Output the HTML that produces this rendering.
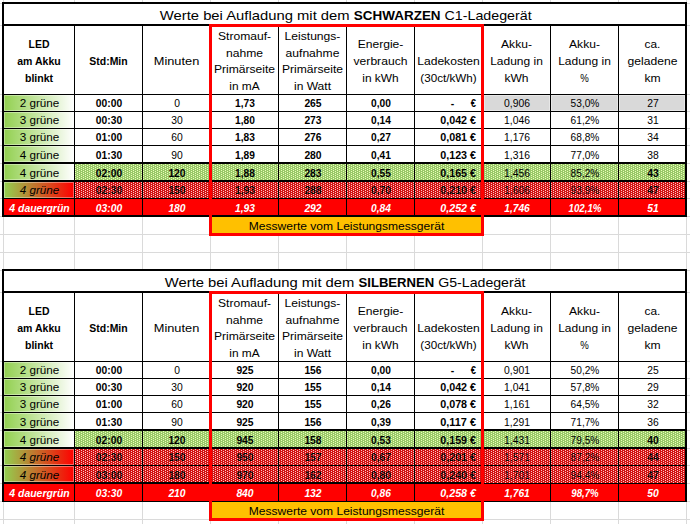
<!DOCTYPE html>
<html><head><meta charset="utf-8"><style>
html,body{margin:0;padding:0;background:#fff;overflow:hidden;}
svg{display:block;}
text{font-family:"Liberation Sans",sans-serif;}
</style></head><body>
<svg width="690" height="524" viewBox="0 0 690 524" shape-rendering="crispEdges">
<defs>
<linearGradient id="gw" x1="0" x2="1" y1="0" y2="0"><stop offset="0" stop-color="#92D050"/><stop offset="1" stop-color="#FFFFFF"/></linearGradient>
<linearGradient id="gr" x1="0" x2="1" y1="0" y2="0"><stop offset="0" stop-color="#92D050"/><stop offset="1" stop-color="#FF0000"/></linearGradient>
<pattern id="pg" patternUnits="userSpaceOnUse" x="0" y="0" width="4" height="2"><rect width="4" height="2" fill="rgb(153,200,104)"/><rect x="1" y="0" width="1" height="1" fill="rgb(233,255,184)"/><rect x="3" y="1" width="1" height="1" fill="rgb(233,255,184)"/></pattern>
<pattern id="pr" patternUnits="userSpaceOnUse" x="0" y="0" width="4" height="2"><rect width="4" height="2" fill="rgb(210,19,19)"/><rect x="1" y="0" width="1" height="1" fill="rgb(255,198,198)"/><rect x="3" y="1" width="1" height="1" fill="rgb(255,198,198)"/></pattern>
<pattern id="pd" patternUnits="userSpaceOnUse" x="0" y="0" width="4" height="2"><rect x="1" y="0" width="1" height="1" fill="rgb(255,198,198)"/><rect x="3" y="1" width="1" height="1" fill="rgb(255,198,198)"/></pattern>
</defs>
<rect width="690" height="524" fill="#FFFFFF"/>
<rect x="3" y="0" width="1" height="524" fill="#DADADA"/>
<rect x="74" y="0" width="1" height="524" fill="#DADADA"/>
<rect x="142" y="0" width="1" height="524" fill="#DADADA"/>
<rect x="210" y="0" width="1" height="524" fill="#DADADA"/>
<rect x="278" y="0" width="1" height="524" fill="#DADADA"/>
<rect x="346" y="0" width="1" height="524" fill="#DADADA"/>
<rect x="414" y="0" width="1" height="524" fill="#DADADA"/>
<rect x="482" y="0" width="1" height="524" fill="#DADADA"/>
<rect x="550" y="0" width="1" height="524" fill="#DADADA"/>
<rect x="618" y="0" width="1" height="524" fill="#DADADA"/>
<rect x="686" y="0" width="1" height="524" fill="#DADADA"/>
<rect x="0" y="3" width="690" height="1" fill="#DADADA"/>
<rect x="0" y="25" width="690" height="1" fill="#DADADA"/>
<rect x="0" y="94" width="690" height="1" fill="#DADADA"/>
<rect x="0" y="111" width="690" height="1" fill="#DADADA"/>
<rect x="0" y="128" width="690" height="1" fill="#DADADA"/>
<rect x="0" y="145" width="690" height="1" fill="#DADADA"/>
<rect x="0" y="163" width="690" height="1" fill="#DADADA"/>
<rect x="0" y="181" width="690" height="1" fill="#DADADA"/>
<rect x="0" y="198" width="690" height="1" fill="#DADADA"/>
<rect x="0" y="216" width="690" height="1" fill="#DADADA"/>
<rect x="0" y="234" width="690" height="1" fill="#DADADA"/>
<rect x="0" y="252" width="690" height="1" fill="#DADADA"/>
<rect x="0" y="270" width="690" height="1" fill="#DADADA"/>
<rect x="0" y="292" width="690" height="1" fill="#DADADA"/>
<rect x="0" y="361" width="690" height="1" fill="#DADADA"/>
<rect x="0" y="378" width="690" height="1" fill="#DADADA"/>
<rect x="0" y="395" width="690" height="1" fill="#DADADA"/>
<rect x="0" y="412" width="690" height="1" fill="#DADADA"/>
<rect x="0" y="430" width="690" height="1" fill="#DADADA"/>
<rect x="0" y="448" width="690" height="1" fill="#DADADA"/>
<rect x="0" y="465" width="690" height="1" fill="#DADADA"/>
<rect x="0" y="483" width="690" height="1" fill="#DADADA"/>
<rect x="0" y="501" width="690" height="1" fill="#DADADA"/>
<rect x="0" y="519" width="690" height="1" fill="#DADADA"/>
<rect x="2" y="2" width="685" height="215" fill="#FFFFFF"/>
<rect x="4" y="95" width="70" height="16" fill="url(#gw)"/>
<path d="M4 95h70v1h-70zM4 110h70v1h-70zM4 96h1v14h-1zM73 96h1v14h-1z" fill="#FFF" fill-opacity="0.38"/>
<rect x="484" y="95" width="201" height="16" fill="#D9D9D9"/>
<path d="M484 95h66v1h-66zM484 110h66v1h-66zM484 96h1v14h-1zM549 96h1v14h-1z" fill="#FFF" fill-opacity="0.38"/>
<path d="M551 95h67v1h-67zM551 110h67v1h-67zM551 96h1v14h-1zM617 96h1v14h-1z" fill="#FFF" fill-opacity="0.38"/>
<path d="M619 95h66v1h-66zM619 110h66v1h-66zM619 96h1v14h-1zM684 96h1v14h-1z" fill="#FFF" fill-opacity="0.38"/>
<rect x="4" y="112" width="70" height="16" fill="url(#gw)"/>
<path d="M4 112h70v1h-70zM4 127h70v1h-70zM4 113h1v14h-1zM73 113h1v14h-1z" fill="#FFF" fill-opacity="0.38"/>
<rect x="4" y="129" width="70" height="16" fill="url(#gw)"/>
<path d="M4 129h70v1h-70zM4 144h70v1h-70zM4 130h1v14h-1zM73 130h1v14h-1z" fill="#FFF" fill-opacity="0.38"/>
<rect x="4" y="146" width="70" height="16" fill="url(#gw)"/>
<path d="M4 146h70v1h-70zM4 161h70v1h-70zM4 147h1v14h-1zM73 147h1v14h-1z" fill="#FFF" fill-opacity="0.38"/>
<rect x="4" y="164" width="70" height="16" fill="url(#gw)"/>
<path d="M4 164h70v1h-70zM4 179h70v1h-70zM4 165h1v14h-1zM73 165h1v14h-1z" fill="#FFF" fill-opacity="0.38"/>
<rect x="75" y="164" width="610" height="16" fill="url(#pg)"/>
<rect x="4" y="182" width="70" height="16" fill="url(#gr)"/>
<path d="M4 182h70v1h-70zM4 197h70v1h-70zM4 183h1v14h-1zM73 183h1v14h-1z" fill="#FFF" fill-opacity="0.38"/>
<rect x="75" y="182" width="610" height="16" fill="url(#pr)"/>
<rect x="4" y="199" width="70" height="16" fill="#FF0000"/>
<rect x="75" y="199" width="610" height="16" fill="#FF0000"/>
<text x="159.80" y="19.80" font-size="13.4" textLength="194.00" lengthAdjust="spacingAndGlyphs" xml:space="preserve">Werte bei Aufladung mit dem </text>
<text x="353.80" y="19.80" font-size="13.4" textLength="86.80" lengthAdjust="spacingAndGlyphs" font-weight="bold" xml:space="preserve">SCHWARZEN</text>
<text x="440.60" y="19.80" font-size="13.4" textLength="91.00" lengthAdjust="spacingAndGlyphs" xml:space="preserve"> C1-Ladegerät</text>
<text x="39.00" y="48.17" text-anchor="middle" font-size="11.0" font-weight="bold" textLength="20.88" lengthAdjust="spacingAndGlyphs">LED</text>
<text x="39.00" y="64.92" text-anchor="middle" font-size="11.0" font-weight="bold" textLength="43.41" lengthAdjust="spacingAndGlyphs">am Akku</text>
<text x="39.00" y="81.67" text-anchor="middle" font-size="11.0" font-weight="bold" textLength="28.12" lengthAdjust="spacingAndGlyphs">blinkt</text>
<text x="108.50" y="64.92" text-anchor="middle" font-size="11.0" font-weight="bold" textLength="38.29" lengthAdjust="spacingAndGlyphs">Std:Min</text>
<text x="176.50" y="64.92" text-anchor="middle" font-size="11.0" textLength="45.50" lengthAdjust="spacingAndGlyphs">Minuten</text>
<text x="244.50" y="39.80" text-anchor="middle" font-size="11.0" textLength="53.09" lengthAdjust="spacingAndGlyphs">Stromauf-</text>
<text x="244.50" y="56.55" text-anchor="middle" font-size="11.0" textLength="37.06" lengthAdjust="spacingAndGlyphs">nahme</text>
<text x="244.50" y="73.30" text-anchor="middle" font-size="11.0" textLength="61.21" lengthAdjust="spacingAndGlyphs">Primärseite</text>
<text x="244.50" y="90.05" text-anchor="middle" font-size="11.0" textLength="30.37" lengthAdjust="spacingAndGlyphs">in mA</text>
<text x="312.50" y="39.80" text-anchor="middle" font-size="11.0" textLength="55.81" lengthAdjust="spacingAndGlyphs">Leistungs-</text>
<text x="312.50" y="56.55" text-anchor="middle" font-size="11.0" textLength="53.91" lengthAdjust="spacingAndGlyphs">aufnahme</text>
<text x="312.50" y="73.30" text-anchor="middle" font-size="11.0" textLength="61.21" lengthAdjust="spacingAndGlyphs">Primärseite</text>
<text x="312.50" y="90.05" text-anchor="middle" font-size="11.0" textLength="37.07" lengthAdjust="spacingAndGlyphs">in Watt</text>
<text x="380.50" y="48.17" text-anchor="middle" font-size="11.0" textLength="45.69" lengthAdjust="spacingAndGlyphs">Energie-</text>
<text x="380.50" y="64.92" text-anchor="middle" font-size="11.0" textLength="53.90" lengthAdjust="spacingAndGlyphs">verbrauch</text>
<text x="380.50" y="81.67" text-anchor="middle" font-size="11.0" textLength="36.39" lengthAdjust="spacingAndGlyphs">in kWh</text>
<text x="448.50" y="48.17" text-anchor="middle" font-size="11.0" textLength="0.00" lengthAdjust="spacingAndGlyphs"></text>
<text x="448.50" y="64.92" text-anchor="middle" font-size="11.0" textLength="62.60" lengthAdjust="spacingAndGlyphs">Ladekosten</text>
<text x="448.50" y="81.67" text-anchor="middle" font-size="11.0" textLength="56.36" lengthAdjust="spacingAndGlyphs">(30ct/kWh)</text>
<text x="516.50" y="48.17" text-anchor="middle" font-size="11.0" textLength="30.86" lengthAdjust="spacingAndGlyphs">Akku-</text>
<text x="516.50" y="64.92" text-anchor="middle" font-size="11.0" textLength="52.64" lengthAdjust="spacingAndGlyphs">Ladung in</text>
<text x="516.50" y="81.67" text-anchor="middle" font-size="11.0" textLength="24.13" lengthAdjust="spacingAndGlyphs">kWh</text>
<text x="584.50" y="48.17" text-anchor="middle" font-size="11.0" textLength="30.86" lengthAdjust="spacingAndGlyphs">Akku-</text>
<text x="584.50" y="64.92" text-anchor="middle" font-size="11.0" textLength="52.64" lengthAdjust="spacingAndGlyphs">Ladung in</text>
<text x="584.50" y="81.67" text-anchor="middle" font-size="11.0" textLength="8.54" lengthAdjust="spacingAndGlyphs">%</text>
<text x="652.50" y="48.17" text-anchor="middle" font-size="11.0" textLength="15.80" lengthAdjust="spacingAndGlyphs">ca.</text>
<text x="652.50" y="64.92" text-anchor="middle" font-size="11.0" textLength="49.88" lengthAdjust="spacingAndGlyphs">geladene</text>
<text x="652.50" y="81.67" text-anchor="middle" font-size="11.0" textLength="16.16" lengthAdjust="spacingAndGlyphs">km</text>
<text x="39.50" y="107.00" text-anchor="middle" font-size="11.0" textLength="39.57" lengthAdjust="spacingAndGlyphs">2 grüne</text>
<text x="109.00" y="107.00" text-anchor="middle" font-size="11.0" font-weight="bold" textLength="26.26" lengthAdjust="spacingAndGlyphs">00:00</text>
<text x="177.00" y="107.00" text-anchor="middle" font-size="11.0" textLength="5.74" lengthAdjust="spacingAndGlyphs">0</text>
<text x="245.00" y="107.00" text-anchor="middle" font-size="11.0" font-weight="bold" textLength="19.83" lengthAdjust="spacingAndGlyphs">1,73</text>
<text x="313.00" y="107.00" text-anchor="middle" font-size="11.0" font-weight="bold" textLength="17.22" lengthAdjust="spacingAndGlyphs">265</text>
<text x="381.00" y="107.00" text-anchor="middle" font-size="11.0" font-weight="bold" textLength="19.83" lengthAdjust="spacingAndGlyphs">0,00</text>
<text x="452.50" y="107.00" text-anchor="middle" font-size="11.0" font-weight="bold" textLength="3.48" lengthAdjust="spacingAndGlyphs">-</text>
<text x="476.00" y="107.00" text-anchor="end" font-size="11.0" font-weight="bold" textLength="5.23" lengthAdjust="spacingAndGlyphs">€</text>
<text x="517.00" y="107.00" text-anchor="middle" font-size="11.0" textLength="25.96" lengthAdjust="spacingAndGlyphs">0,906</text>
<text x="585.00" y="107.00" text-anchor="middle" font-size="11.0" textLength="28.76" lengthAdjust="spacingAndGlyphs">53,0%</text>
<text x="653.00" y="107.00" text-anchor="middle" font-size="11.0" textLength="11.48" lengthAdjust="spacingAndGlyphs">27</text>
<text x="39.50" y="124.00" text-anchor="middle" font-size="11.0" textLength="39.57" lengthAdjust="spacingAndGlyphs">3 grüne</text>
<text x="109.00" y="124.00" text-anchor="middle" font-size="11.0" font-weight="bold" textLength="26.26" lengthAdjust="spacingAndGlyphs">00:30</text>
<text x="177.00" y="124.00" text-anchor="middle" font-size="11.0" textLength="11.48" lengthAdjust="spacingAndGlyphs">30</text>
<text x="245.00" y="124.00" text-anchor="middle" font-size="11.0" font-weight="bold" textLength="19.83" lengthAdjust="spacingAndGlyphs">1,80</text>
<text x="313.00" y="124.00" text-anchor="middle" font-size="11.0" font-weight="bold" textLength="17.22" lengthAdjust="spacingAndGlyphs">273</text>
<text x="381.00" y="124.00" text-anchor="middle" font-size="11.0" font-weight="bold" textLength="19.83" lengthAdjust="spacingAndGlyphs">0,14</text>
<text x="476.00" y="124.00" text-anchor="end" font-size="11.0" font-weight="bold" textLength="35.76" lengthAdjust="spacingAndGlyphs">0,042 €</text>
<text x="517.00" y="124.00" text-anchor="middle" font-size="11.0" textLength="25.96" lengthAdjust="spacingAndGlyphs">1,046</text>
<text x="585.00" y="124.00" text-anchor="middle" font-size="11.0" textLength="28.76" lengthAdjust="spacingAndGlyphs">61,2%</text>
<text x="653.00" y="124.00" text-anchor="middle" font-size="11.0" textLength="11.48" lengthAdjust="spacingAndGlyphs">31</text>
<text x="39.50" y="141.00" text-anchor="middle" font-size="11.0" textLength="39.57" lengthAdjust="spacingAndGlyphs">3 grüne</text>
<text x="109.00" y="141.00" text-anchor="middle" font-size="11.0" font-weight="bold" textLength="26.26" lengthAdjust="spacingAndGlyphs">01:00</text>
<text x="177.00" y="141.00" text-anchor="middle" font-size="11.0" textLength="11.48" lengthAdjust="spacingAndGlyphs">60</text>
<text x="245.00" y="141.00" text-anchor="middle" font-size="11.0" font-weight="bold" textLength="19.83" lengthAdjust="spacingAndGlyphs">1,83</text>
<text x="313.00" y="141.00" text-anchor="middle" font-size="11.0" font-weight="bold" textLength="17.22" lengthAdjust="spacingAndGlyphs">276</text>
<text x="381.00" y="141.00" text-anchor="middle" font-size="11.0" font-weight="bold" textLength="19.83" lengthAdjust="spacingAndGlyphs">0,27</text>
<text x="476.00" y="141.00" text-anchor="end" font-size="11.0" font-weight="bold" textLength="35.76" lengthAdjust="spacingAndGlyphs">0,081 €</text>
<text x="517.00" y="141.00" text-anchor="middle" font-size="11.0" textLength="25.96" lengthAdjust="spacingAndGlyphs">1,176</text>
<text x="585.00" y="141.00" text-anchor="middle" font-size="11.0" textLength="28.76" lengthAdjust="spacingAndGlyphs">68,8%</text>
<text x="653.00" y="141.00" text-anchor="middle" font-size="11.0" textLength="11.48" lengthAdjust="spacingAndGlyphs">34</text>
<text x="39.50" y="159.00" text-anchor="middle" font-size="11.0" textLength="39.57" lengthAdjust="spacingAndGlyphs">4 grüne</text>
<text x="109.00" y="159.00" text-anchor="middle" font-size="11.0" font-weight="bold" textLength="26.26" lengthAdjust="spacingAndGlyphs">01:30</text>
<text x="177.00" y="159.00" text-anchor="middle" font-size="11.0" textLength="11.48" lengthAdjust="spacingAndGlyphs">90</text>
<text x="245.00" y="159.00" text-anchor="middle" font-size="11.0" font-weight="bold" textLength="19.83" lengthAdjust="spacingAndGlyphs">1,89</text>
<text x="313.00" y="159.00" text-anchor="middle" font-size="11.0" font-weight="bold" textLength="17.22" lengthAdjust="spacingAndGlyphs">280</text>
<text x="381.00" y="159.00" text-anchor="middle" font-size="11.0" font-weight="bold" textLength="19.83" lengthAdjust="spacingAndGlyphs">0,41</text>
<text x="476.00" y="159.00" text-anchor="end" font-size="11.0" font-weight="bold" textLength="35.76" lengthAdjust="spacingAndGlyphs">0,123 €</text>
<text x="517.00" y="159.00" text-anchor="middle" font-size="11.0" textLength="25.96" lengthAdjust="spacingAndGlyphs">1,316</text>
<text x="585.00" y="159.00" text-anchor="middle" font-size="11.0" textLength="28.76" lengthAdjust="spacingAndGlyphs">77,0%</text>
<text x="653.00" y="159.00" text-anchor="middle" font-size="11.0" textLength="11.48" lengthAdjust="spacingAndGlyphs">38</text>
<text x="39.50" y="177.00" text-anchor="middle" font-size="11.0" textLength="39.57" lengthAdjust="spacingAndGlyphs">4 grüne</text>
<text x="109.00" y="177.00" text-anchor="middle" font-size="11.0" font-weight="bold" textLength="26.26" lengthAdjust="spacingAndGlyphs">02:00</text>
<text x="177.00" y="177.00" text-anchor="middle" font-size="11.0" font-weight="bold" textLength="17.22" lengthAdjust="spacingAndGlyphs">120</text>
<text x="245.00" y="177.00" text-anchor="middle" font-size="11.0" font-weight="bold" textLength="19.83" lengthAdjust="spacingAndGlyphs">1,88</text>
<text x="313.00" y="177.00" text-anchor="middle" font-size="11.0" font-weight="bold" textLength="17.22" lengthAdjust="spacingAndGlyphs">283</text>
<text x="381.00" y="177.00" text-anchor="middle" font-size="11.0" font-weight="bold" textLength="19.83" lengthAdjust="spacingAndGlyphs">0,55</text>
<text x="476.00" y="177.00" text-anchor="end" font-size="11.0" font-weight="bold" textLength="35.76" lengthAdjust="spacingAndGlyphs">0,165 €</text>
<text x="517.00" y="177.00" text-anchor="middle" font-size="11.0" textLength="25.96" lengthAdjust="spacingAndGlyphs">1,456</text>
<text x="585.00" y="177.00" text-anchor="middle" font-size="11.0" textLength="28.76" lengthAdjust="spacingAndGlyphs">85,2%</text>
<text x="653.00" y="177.00" text-anchor="middle" font-size="11.0" font-weight="bold" textLength="11.48" lengthAdjust="spacingAndGlyphs">43</text>
<text x="39.50" y="194.00" text-anchor="middle" font-size="11.0" font-style="italic" textLength="39.57" lengthAdjust="spacingAndGlyphs">4 grüne</text>
<text x="109.00" y="194.00" text-anchor="middle" font-size="11.0" font-weight="bold" textLength="26.26" lengthAdjust="spacingAndGlyphs">02:30</text>
<text x="177.00" y="194.00" text-anchor="middle" font-size="11.0" font-weight="bold" textLength="17.22" lengthAdjust="spacingAndGlyphs">150</text>
<text x="245.00" y="194.00" text-anchor="middle" font-size="11.0" font-weight="bold" textLength="19.83" lengthAdjust="spacingAndGlyphs">1,93</text>
<text x="313.00" y="194.00" text-anchor="middle" font-size="11.0" font-weight="bold" textLength="17.22" lengthAdjust="spacingAndGlyphs">288</text>
<text x="381.00" y="194.00" text-anchor="middle" font-size="11.0" font-weight="bold" textLength="19.83" lengthAdjust="spacingAndGlyphs">0,70</text>
<text x="476.00" y="194.00" text-anchor="end" font-size="11.0" font-weight="bold" textLength="35.76" lengthAdjust="spacingAndGlyphs">0,210 €</text>
<text x="517.00" y="194.00" text-anchor="middle" font-size="11.0" textLength="25.96" lengthAdjust="spacingAndGlyphs">1,606</text>
<text x="585.00" y="194.00" text-anchor="middle" font-size="11.0" textLength="28.76" lengthAdjust="spacingAndGlyphs">93,9%</text>
<text x="653.00" y="194.00" text-anchor="middle" font-size="11.0" font-weight="bold" textLength="11.48" lengthAdjust="spacingAndGlyphs">47</text>
<text x="39.50" y="212.00" text-anchor="middle" font-size="11.0" font-weight="bold" font-style="italic" fill="#FFF" textLength="60.35" lengthAdjust="spacingAndGlyphs">4 dauergrün</text>
<text x="109.00" y="212.00" text-anchor="middle" font-size="11.0" font-weight="bold" font-style="italic" fill="#FFF" textLength="26.26" lengthAdjust="spacingAndGlyphs">03:00</text>
<text x="177.00" y="212.00" text-anchor="middle" font-size="11.0" font-weight="bold" font-style="italic" fill="#FFF" textLength="17.22" lengthAdjust="spacingAndGlyphs">180</text>
<text x="245.00" y="212.00" text-anchor="middle" font-size="11.0" font-weight="bold" font-style="italic" fill="#FFF" textLength="19.83" lengthAdjust="spacingAndGlyphs">1,93</text>
<text x="313.00" y="212.00" text-anchor="middle" font-size="11.0" font-weight="bold" font-style="italic" fill="#FFF" textLength="17.22" lengthAdjust="spacingAndGlyphs">292</text>
<text x="381.00" y="212.00" text-anchor="middle" font-size="11.0" font-weight="bold" font-style="italic" fill="#FFF" textLength="19.83" lengthAdjust="spacingAndGlyphs">0,84</text>
<text x="476.00" y="212.00" text-anchor="end" font-size="11.0" font-weight="bold" font-style="italic" fill="#FFF" textLength="35.76" lengthAdjust="spacingAndGlyphs">0,252 €</text>
<text x="517.00" y="212.00" text-anchor="middle" font-size="11.0" font-weight="bold" font-style="italic" fill="#FFF" textLength="25.57" lengthAdjust="spacingAndGlyphs">1,746</text>
<text x="585.00" y="212.00" text-anchor="middle" font-size="11.0" font-weight="bold" font-style="italic" fill="#FFF" textLength="32.99" lengthAdjust="spacingAndGlyphs">102,1%</text>
<text x="653.00" y="212.00" text-anchor="middle" font-size="11.0" font-weight="bold" font-style="italic" fill="#FFF" textLength="11.48" lengthAdjust="spacingAndGlyphs">51</text>
<rect x="75" y="182" width="610" height="16" fill="url(#pd)" opacity="0.4"/>
<rect x="2" y="94" width="685" height="1" fill="#000"/>
<rect x="2" y="111" width="685" height="1" fill="#000"/>
<rect x="2" y="128" width="685" height="1" fill="#000"/>
<rect x="2" y="145" width="685" height="1" fill="#000"/>
<rect x="2" y="162" width="685" height="2" fill="#000"/>
<rect x="2" y="180" width="685" height="2" fill="#000"/>
<rect x="2" y="198" width="685" height="1" fill="#000"/>
<rect x="74" y="25" width="1" height="191" fill="#000"/>
<rect x="142" y="25" width="1" height="191" fill="#000"/>
<rect x="210" y="25" width="1" height="191" fill="#000"/>
<rect x="278" y="25" width="1" height="191" fill="#000"/>
<rect x="346" y="25" width="1" height="191" fill="#000"/>
<rect x="414" y="25" width="1" height="191" fill="#000"/>
<rect x="482" y="25" width="1" height="191" fill="#000"/>
<rect x="550" y="25" width="1" height="191" fill="#000"/>
<rect x="618" y="25" width="1" height="191" fill="#000"/>
<rect x="2" y="2" width="2" height="215" fill="#000"/>
<rect x="685" y="2" width="2" height="215" fill="#000"/>
<rect x="2" y="2" width="685" height="2" fill="#000"/>
<rect x="2" y="24" width="685" height="2" fill="#000"/>
<rect x="2" y="215" width="685" height="2" fill="#000"/>
<rect x="212" y="217" width="269" height="16" fill="#FFC000"/>
<text x="346.50" y="229.80" text-anchor="middle" font-size="11.0" textLength="195.46" lengthAdjust="spacingAndGlyphs">Messwerte vom Leistungsmessgerät</text>
<rect x="209" y="24" width="3" height="212" fill="#FF0000"/>
<rect x="481" y="24" width="3" height="212" fill="#FF0000"/>
<rect x="209" y="24" width="275" height="3" fill="#FF0000"/>
<rect x="209" y="233" width="275" height="3" fill="#FF0000"/>
<rect x="2" y="269" width="685" height="233" fill="#FFFFFF"/>
<rect x="4" y="362" width="70" height="16" fill="url(#gw)"/>
<path d="M4 362h70v1h-70zM4 377h70v1h-70zM4 363h1v14h-1zM73 363h1v14h-1z" fill="#FFF" fill-opacity="0.38"/>
<rect x="4" y="379" width="70" height="16" fill="url(#gw)"/>
<path d="M4 379h70v1h-70zM4 394h70v1h-70zM4 380h1v14h-1zM73 380h1v14h-1z" fill="#FFF" fill-opacity="0.38"/>
<rect x="4" y="396" width="70" height="16" fill="url(#gw)"/>
<path d="M4 396h70v1h-70zM4 411h70v1h-70zM4 397h1v14h-1zM73 397h1v14h-1z" fill="#FFF" fill-opacity="0.38"/>
<rect x="4" y="413" width="70" height="16" fill="url(#gw)"/>
<path d="M4 413h70v1h-70zM4 428h70v1h-70zM4 414h1v14h-1zM73 414h1v14h-1z" fill="#FFF" fill-opacity="0.38"/>
<rect x="4" y="431" width="70" height="16" fill="url(#gw)"/>
<path d="M4 431h70v1h-70zM4 446h70v1h-70zM4 432h1v14h-1zM73 432h1v14h-1z" fill="#FFF" fill-opacity="0.38"/>
<rect x="75" y="431" width="610" height="16" fill="url(#pg)"/>
<rect x="4" y="449" width="70" height="16" fill="url(#gr)"/>
<path d="M4 449h70v1h-70zM4 464h70v1h-70zM4 450h1v14h-1zM73 450h1v14h-1z" fill="#FFF" fill-opacity="0.38"/>
<rect x="75" y="449" width="610" height="16" fill="url(#pr)"/>
<rect x="4" y="466" width="70" height="16" fill="url(#gr)"/>
<path d="M4 466h70v1h-70zM4 481h70v1h-70zM4 467h1v14h-1zM73 467h1v14h-1z" fill="#FFF" fill-opacity="0.38"/>
<rect x="75" y="466" width="610" height="16" fill="url(#pr)"/>
<rect x="4" y="484" width="70" height="16" fill="#FF0000"/>
<rect x="75" y="484" width="610" height="16" fill="#FF0000"/>
<text x="164.80" y="286.80" font-size="13.4" textLength="193.70" lengthAdjust="spacingAndGlyphs" xml:space="preserve">Werte bei Aufladung mit dem </text>
<text x="358.50" y="286.80" font-size="13.4" textLength="75.80" lengthAdjust="spacingAndGlyphs" font-weight="bold" xml:space="preserve">SILBERNEN</text>
<text x="434.30" y="286.80" font-size="13.4" textLength="91.20" lengthAdjust="spacingAndGlyphs" xml:space="preserve"> G5-Ladegerät</text>
<text x="39.00" y="315.18" text-anchor="middle" font-size="11.0" font-weight="bold" textLength="20.88" lengthAdjust="spacingAndGlyphs">LED</text>
<text x="39.00" y="331.93" text-anchor="middle" font-size="11.0" font-weight="bold" textLength="43.41" lengthAdjust="spacingAndGlyphs">am Akku</text>
<text x="39.00" y="348.68" text-anchor="middle" font-size="11.0" font-weight="bold" textLength="28.12" lengthAdjust="spacingAndGlyphs">blinkt</text>
<text x="108.50" y="331.93" text-anchor="middle" font-size="11.0" font-weight="bold" textLength="38.29" lengthAdjust="spacingAndGlyphs">Std:Min</text>
<text x="176.50" y="331.93" text-anchor="middle" font-size="11.0" textLength="45.50" lengthAdjust="spacingAndGlyphs">Minuten</text>
<text x="244.50" y="306.80" text-anchor="middle" font-size="11.0" textLength="53.09" lengthAdjust="spacingAndGlyphs">Stromauf-</text>
<text x="244.50" y="323.55" text-anchor="middle" font-size="11.0" textLength="37.06" lengthAdjust="spacingAndGlyphs">nahme</text>
<text x="244.50" y="340.30" text-anchor="middle" font-size="11.0" textLength="61.21" lengthAdjust="spacingAndGlyphs">Primärseite</text>
<text x="244.50" y="357.05" text-anchor="middle" font-size="11.0" textLength="30.37" lengthAdjust="spacingAndGlyphs">in mA</text>
<text x="312.50" y="306.80" text-anchor="middle" font-size="11.0" textLength="55.81" lengthAdjust="spacingAndGlyphs">Leistungs-</text>
<text x="312.50" y="323.55" text-anchor="middle" font-size="11.0" textLength="53.91" lengthAdjust="spacingAndGlyphs">aufnahme</text>
<text x="312.50" y="340.30" text-anchor="middle" font-size="11.0" textLength="61.21" lengthAdjust="spacingAndGlyphs">Primärseite</text>
<text x="312.50" y="357.05" text-anchor="middle" font-size="11.0" textLength="37.07" lengthAdjust="spacingAndGlyphs">in Watt</text>
<text x="380.50" y="315.18" text-anchor="middle" font-size="11.0" textLength="45.69" lengthAdjust="spacingAndGlyphs">Energie-</text>
<text x="380.50" y="331.93" text-anchor="middle" font-size="11.0" textLength="53.90" lengthAdjust="spacingAndGlyphs">verbrauch</text>
<text x="380.50" y="348.68" text-anchor="middle" font-size="11.0" textLength="36.39" lengthAdjust="spacingAndGlyphs">in kWh</text>
<text x="448.50" y="315.18" text-anchor="middle" font-size="11.0" textLength="0.00" lengthAdjust="spacingAndGlyphs"></text>
<text x="448.50" y="331.93" text-anchor="middle" font-size="11.0" textLength="62.60" lengthAdjust="spacingAndGlyphs">Ladekosten</text>
<text x="448.50" y="348.68" text-anchor="middle" font-size="11.0" textLength="56.36" lengthAdjust="spacingAndGlyphs">(30ct/kWh)</text>
<text x="516.50" y="315.18" text-anchor="middle" font-size="11.0" textLength="30.86" lengthAdjust="spacingAndGlyphs">Akku-</text>
<text x="516.50" y="331.93" text-anchor="middle" font-size="11.0" textLength="52.64" lengthAdjust="spacingAndGlyphs">Ladung in</text>
<text x="516.50" y="348.68" text-anchor="middle" font-size="11.0" textLength="24.13" lengthAdjust="spacingAndGlyphs">kWh</text>
<text x="584.50" y="315.18" text-anchor="middle" font-size="11.0" textLength="30.86" lengthAdjust="spacingAndGlyphs">Akku-</text>
<text x="584.50" y="331.93" text-anchor="middle" font-size="11.0" textLength="52.64" lengthAdjust="spacingAndGlyphs">Ladung in</text>
<text x="584.50" y="348.68" text-anchor="middle" font-size="11.0" textLength="8.54" lengthAdjust="spacingAndGlyphs">%</text>
<text x="652.50" y="315.18" text-anchor="middle" font-size="11.0" textLength="15.80" lengthAdjust="spacingAndGlyphs">ca.</text>
<text x="652.50" y="331.93" text-anchor="middle" font-size="11.0" textLength="49.88" lengthAdjust="spacingAndGlyphs">geladene</text>
<text x="652.50" y="348.68" text-anchor="middle" font-size="11.0" textLength="16.16" lengthAdjust="spacingAndGlyphs">km</text>
<text x="39.50" y="374.00" text-anchor="middle" font-size="11.0" textLength="39.57" lengthAdjust="spacingAndGlyphs">2 grüne</text>
<text x="109.00" y="374.00" text-anchor="middle" font-size="11.0" font-weight="bold" textLength="26.26" lengthAdjust="spacingAndGlyphs">00:00</text>
<text x="177.00" y="374.00" text-anchor="middle" font-size="11.0" textLength="5.74" lengthAdjust="spacingAndGlyphs">0</text>
<text x="245.00" y="374.00" text-anchor="middle" font-size="11.0" font-weight="bold" textLength="17.22" lengthAdjust="spacingAndGlyphs">925</text>
<text x="313.00" y="374.00" text-anchor="middle" font-size="11.0" font-weight="bold" textLength="17.22" lengthAdjust="spacingAndGlyphs">156</text>
<text x="381.00" y="374.00" text-anchor="middle" font-size="11.0" font-weight="bold" textLength="19.83" lengthAdjust="spacingAndGlyphs">0,00</text>
<text x="452.50" y="374.00" text-anchor="middle" font-size="11.0" font-weight="bold" textLength="3.48" lengthAdjust="spacingAndGlyphs">-</text>
<text x="476.00" y="374.00" text-anchor="end" font-size="11.0" font-weight="bold" textLength="5.23" lengthAdjust="spacingAndGlyphs">€</text>
<text x="517.00" y="374.00" text-anchor="middle" font-size="11.0" textLength="25.96" lengthAdjust="spacingAndGlyphs">0,901</text>
<text x="585.00" y="374.00" text-anchor="middle" font-size="11.0" textLength="28.76" lengthAdjust="spacingAndGlyphs">50,2%</text>
<text x="653.00" y="374.00" text-anchor="middle" font-size="11.0" textLength="11.48" lengthAdjust="spacingAndGlyphs">25</text>
<text x="39.50" y="391.00" text-anchor="middle" font-size="11.0" textLength="39.57" lengthAdjust="spacingAndGlyphs">3 grüne</text>
<text x="109.00" y="391.00" text-anchor="middle" font-size="11.0" font-weight="bold" textLength="26.26" lengthAdjust="spacingAndGlyphs">00:30</text>
<text x="177.00" y="391.00" text-anchor="middle" font-size="11.0" textLength="11.48" lengthAdjust="spacingAndGlyphs">30</text>
<text x="245.00" y="391.00" text-anchor="middle" font-size="11.0" font-weight="bold" textLength="17.22" lengthAdjust="spacingAndGlyphs">920</text>
<text x="313.00" y="391.00" text-anchor="middle" font-size="11.0" font-weight="bold" textLength="17.22" lengthAdjust="spacingAndGlyphs">155</text>
<text x="381.00" y="391.00" text-anchor="middle" font-size="11.0" font-weight="bold" textLength="19.83" lengthAdjust="spacingAndGlyphs">0,14</text>
<text x="476.00" y="391.00" text-anchor="end" font-size="11.0" font-weight="bold" textLength="35.76" lengthAdjust="spacingAndGlyphs">0,042 €</text>
<text x="517.00" y="391.00" text-anchor="middle" font-size="11.0" textLength="25.96" lengthAdjust="spacingAndGlyphs">1,041</text>
<text x="585.00" y="391.00" text-anchor="middle" font-size="11.0" textLength="28.76" lengthAdjust="spacingAndGlyphs">57,8%</text>
<text x="653.00" y="391.00" text-anchor="middle" font-size="11.0" textLength="11.48" lengthAdjust="spacingAndGlyphs">29</text>
<text x="39.50" y="408.00" text-anchor="middle" font-size="11.0" textLength="39.57" lengthAdjust="spacingAndGlyphs">3 grüne</text>
<text x="109.00" y="408.00" text-anchor="middle" font-size="11.0" font-weight="bold" textLength="26.26" lengthAdjust="spacingAndGlyphs">01:00</text>
<text x="177.00" y="408.00" text-anchor="middle" font-size="11.0" textLength="11.48" lengthAdjust="spacingAndGlyphs">60</text>
<text x="245.00" y="408.00" text-anchor="middle" font-size="11.0" font-weight="bold" textLength="17.22" lengthAdjust="spacingAndGlyphs">920</text>
<text x="313.00" y="408.00" text-anchor="middle" font-size="11.0" font-weight="bold" textLength="17.22" lengthAdjust="spacingAndGlyphs">155</text>
<text x="381.00" y="408.00" text-anchor="middle" font-size="11.0" font-weight="bold" textLength="19.83" lengthAdjust="spacingAndGlyphs">0,26</text>
<text x="476.00" y="408.00" text-anchor="end" font-size="11.0" font-weight="bold" textLength="35.76" lengthAdjust="spacingAndGlyphs">0,078 €</text>
<text x="517.00" y="408.00" text-anchor="middle" font-size="11.0" textLength="25.96" lengthAdjust="spacingAndGlyphs">1,161</text>
<text x="585.00" y="408.00" text-anchor="middle" font-size="11.0" textLength="28.76" lengthAdjust="spacingAndGlyphs">64,5%</text>
<text x="653.00" y="408.00" text-anchor="middle" font-size="11.0" textLength="11.48" lengthAdjust="spacingAndGlyphs">32</text>
<text x="39.50" y="426.00" text-anchor="middle" font-size="11.0" textLength="39.57" lengthAdjust="spacingAndGlyphs">3 grüne</text>
<text x="109.00" y="426.00" text-anchor="middle" font-size="11.0" font-weight="bold" textLength="26.26" lengthAdjust="spacingAndGlyphs">01:30</text>
<text x="177.00" y="426.00" text-anchor="middle" font-size="11.0" textLength="11.48" lengthAdjust="spacingAndGlyphs">90</text>
<text x="245.00" y="426.00" text-anchor="middle" font-size="11.0" font-weight="bold" textLength="17.22" lengthAdjust="spacingAndGlyphs">925</text>
<text x="313.00" y="426.00" text-anchor="middle" font-size="11.0" font-weight="bold" textLength="17.22" lengthAdjust="spacingAndGlyphs">156</text>
<text x="381.00" y="426.00" text-anchor="middle" font-size="11.0" font-weight="bold" textLength="19.83" lengthAdjust="spacingAndGlyphs">0,39</text>
<text x="476.00" y="426.00" text-anchor="end" font-size="11.0" font-weight="bold" textLength="35.76" lengthAdjust="spacingAndGlyphs">0,117 €</text>
<text x="517.00" y="426.00" text-anchor="middle" font-size="11.0" textLength="25.96" lengthAdjust="spacingAndGlyphs">1,291</text>
<text x="585.00" y="426.00" text-anchor="middle" font-size="11.0" textLength="28.76" lengthAdjust="spacingAndGlyphs">71,7%</text>
<text x="653.00" y="426.00" text-anchor="middle" font-size="11.0" textLength="11.48" lengthAdjust="spacingAndGlyphs">36</text>
<text x="39.50" y="444.00" text-anchor="middle" font-size="11.0" textLength="39.57" lengthAdjust="spacingAndGlyphs">4 grüne</text>
<text x="109.00" y="444.00" text-anchor="middle" font-size="11.0" font-weight="bold" textLength="26.26" lengthAdjust="spacingAndGlyphs">02:00</text>
<text x="177.00" y="444.00" text-anchor="middle" font-size="11.0" font-weight="bold" textLength="17.22" lengthAdjust="spacingAndGlyphs">120</text>
<text x="245.00" y="444.00" text-anchor="middle" font-size="11.0" font-weight="bold" textLength="17.22" lengthAdjust="spacingAndGlyphs">945</text>
<text x="313.00" y="444.00" text-anchor="middle" font-size="11.0" font-weight="bold" textLength="17.22" lengthAdjust="spacingAndGlyphs">158</text>
<text x="381.00" y="444.00" text-anchor="middle" font-size="11.0" font-weight="bold" textLength="19.83" lengthAdjust="spacingAndGlyphs">0,53</text>
<text x="476.00" y="444.00" text-anchor="end" font-size="11.0" font-weight="bold" textLength="35.76" lengthAdjust="spacingAndGlyphs">0,159 €</text>
<text x="517.00" y="444.00" text-anchor="middle" font-size="11.0" textLength="25.96" lengthAdjust="spacingAndGlyphs">1,431</text>
<text x="585.00" y="444.00" text-anchor="middle" font-size="11.0" textLength="28.76" lengthAdjust="spacingAndGlyphs">79,5%</text>
<text x="653.00" y="444.00" text-anchor="middle" font-size="11.0" font-weight="bold" textLength="11.48" lengthAdjust="spacingAndGlyphs">40</text>
<text x="39.50" y="461.00" text-anchor="middle" font-size="11.0" font-style="italic" textLength="39.57" lengthAdjust="spacingAndGlyphs">4 grüne</text>
<text x="109.00" y="461.00" text-anchor="middle" font-size="11.0" font-weight="bold" textLength="26.26" lengthAdjust="spacingAndGlyphs">02:30</text>
<text x="177.00" y="461.00" text-anchor="middle" font-size="11.0" font-weight="bold" textLength="17.22" lengthAdjust="spacingAndGlyphs">150</text>
<text x="245.00" y="461.00" text-anchor="middle" font-size="11.0" font-weight="bold" textLength="17.22" lengthAdjust="spacingAndGlyphs">950</text>
<text x="313.00" y="461.00" text-anchor="middle" font-size="11.0" font-weight="bold" textLength="17.22" lengthAdjust="spacingAndGlyphs">157</text>
<text x="381.00" y="461.00" text-anchor="middle" font-size="11.0" font-weight="bold" textLength="19.83" lengthAdjust="spacingAndGlyphs">0,67</text>
<text x="476.00" y="461.00" text-anchor="end" font-size="11.0" font-weight="bold" textLength="35.76" lengthAdjust="spacingAndGlyphs">0,201 €</text>
<text x="517.00" y="461.00" text-anchor="middle" font-size="11.0" textLength="25.96" lengthAdjust="spacingAndGlyphs">1,571</text>
<text x="585.00" y="461.00" text-anchor="middle" font-size="11.0" textLength="28.76" lengthAdjust="spacingAndGlyphs">87,2%</text>
<text x="653.00" y="461.00" text-anchor="middle" font-size="11.0" font-weight="bold" textLength="11.48" lengthAdjust="spacingAndGlyphs">44</text>
<text x="39.50" y="479.00" text-anchor="middle" font-size="11.0" font-style="italic" textLength="39.57" lengthAdjust="spacingAndGlyphs">4 grüne</text>
<text x="109.00" y="479.00" text-anchor="middle" font-size="11.0" font-weight="bold" textLength="26.26" lengthAdjust="spacingAndGlyphs">03:00</text>
<text x="177.00" y="479.00" text-anchor="middle" font-size="11.0" font-weight="bold" textLength="17.22" lengthAdjust="spacingAndGlyphs">180</text>
<text x="245.00" y="479.00" text-anchor="middle" font-size="11.0" font-weight="bold" textLength="17.22" lengthAdjust="spacingAndGlyphs">970</text>
<text x="313.00" y="479.00" text-anchor="middle" font-size="11.0" font-weight="bold" textLength="17.22" lengthAdjust="spacingAndGlyphs">162</text>
<text x="381.00" y="479.00" text-anchor="middle" font-size="11.0" font-weight="bold" textLength="19.83" lengthAdjust="spacingAndGlyphs">0,80</text>
<text x="476.00" y="479.00" text-anchor="end" font-size="11.0" font-weight="bold" textLength="35.76" lengthAdjust="spacingAndGlyphs">0,240 €</text>
<text x="517.00" y="479.00" text-anchor="middle" font-size="11.0" textLength="25.96" lengthAdjust="spacingAndGlyphs">1,701</text>
<text x="585.00" y="479.00" text-anchor="middle" font-size="11.0" textLength="28.76" lengthAdjust="spacingAndGlyphs">94,4%</text>
<text x="653.00" y="479.00" text-anchor="middle" font-size="11.0" font-weight="bold" textLength="11.48" lengthAdjust="spacingAndGlyphs">47</text>
<text x="39.50" y="497.00" text-anchor="middle" font-size="11.0" font-weight="bold" font-style="italic" fill="#FFF" textLength="60.35" lengthAdjust="spacingAndGlyphs">4 dauergrün</text>
<text x="109.00" y="497.00" text-anchor="middle" font-size="11.0" font-weight="bold" font-style="italic" fill="#FFF" textLength="26.26" lengthAdjust="spacingAndGlyphs">03:30</text>
<text x="177.00" y="497.00" text-anchor="middle" font-size="11.0" font-weight="bold" font-style="italic" fill="#FFF" textLength="17.22" lengthAdjust="spacingAndGlyphs">210</text>
<text x="245.00" y="497.00" text-anchor="middle" font-size="11.0" font-weight="bold" font-style="italic" fill="#FFF" textLength="17.22" lengthAdjust="spacingAndGlyphs">840</text>
<text x="313.00" y="497.00" text-anchor="middle" font-size="11.0" font-weight="bold" font-style="italic" fill="#FFF" textLength="17.22" lengthAdjust="spacingAndGlyphs">132</text>
<text x="381.00" y="497.00" text-anchor="middle" font-size="11.0" font-weight="bold" font-style="italic" fill="#FFF" textLength="19.83" lengthAdjust="spacingAndGlyphs">0,86</text>
<text x="476.00" y="497.00" text-anchor="end" font-size="11.0" font-weight="bold" font-style="italic" fill="#FFF" textLength="35.76" lengthAdjust="spacingAndGlyphs">0,258 €</text>
<text x="517.00" y="497.00" text-anchor="middle" font-size="11.0" font-weight="bold" font-style="italic" fill="#FFF" textLength="25.57" lengthAdjust="spacingAndGlyphs">1,761</text>
<text x="585.00" y="497.00" text-anchor="middle" font-size="11.0" font-weight="bold" font-style="italic" fill="#FFF" textLength="27.26" lengthAdjust="spacingAndGlyphs">98,7%</text>
<text x="653.00" y="497.00" text-anchor="middle" font-size="11.0" font-weight="bold" font-style="italic" fill="#FFF" textLength="11.48" lengthAdjust="spacingAndGlyphs">50</text>
<rect x="75" y="449" width="610" height="16" fill="url(#pd)" opacity="0.4"/>
<rect x="75" y="466" width="610" height="16" fill="url(#pd)" opacity="0.4"/>
<rect x="2" y="361" width="685" height="1" fill="#000"/>
<rect x="2" y="378" width="685" height="1" fill="#000"/>
<rect x="2" y="395" width="685" height="1" fill="#000"/>
<rect x="2" y="412" width="685" height="1" fill="#000"/>
<rect x="2" y="429" width="685" height="2" fill="#000"/>
<rect x="2" y="447" width="685" height="2" fill="#000"/>
<rect x="2" y="465" width="685" height="1" fill="#000"/>
<rect x="2" y="482" width="685" height="2" fill="#000"/>
<rect x="74" y="292" width="1" height="209" fill="#000"/>
<rect x="142" y="292" width="1" height="209" fill="#000"/>
<rect x="210" y="292" width="1" height="209" fill="#000"/>
<rect x="278" y="292" width="1" height="209" fill="#000"/>
<rect x="346" y="292" width="1" height="209" fill="#000"/>
<rect x="414" y="292" width="1" height="209" fill="#000"/>
<rect x="482" y="292" width="1" height="209" fill="#000"/>
<rect x="550" y="292" width="1" height="209" fill="#000"/>
<rect x="618" y="292" width="1" height="209" fill="#000"/>
<rect x="2" y="269" width="2" height="233" fill="#000"/>
<rect x="685" y="269" width="2" height="233" fill="#000"/>
<rect x="2" y="269" width="685" height="2" fill="#000"/>
<rect x="2" y="291" width="685" height="2" fill="#000"/>
<rect x="2" y="500" width="685" height="2" fill="#000"/>
<rect x="484" y="482" width="201" height="1" fill="url(#pr)"/>
<rect x="550" y="482" width="1" height="1" fill="#000"/>
<rect x="618" y="482" width="1" height="1" fill="#000"/>
<rect x="4" y="500" width="681" height="1" fill="#FF0000"/>
<rect x="74" y="500" width="1" height="1" fill="#000"/>
<rect x="142" y="500" width="1" height="1" fill="#000"/>
<rect x="210" y="500" width="1" height="1" fill="#000"/>
<rect x="278" y="500" width="1" height="1" fill="#000"/>
<rect x="346" y="500" width="1" height="1" fill="#000"/>
<rect x="414" y="500" width="1" height="1" fill="#000"/>
<rect x="482" y="500" width="1" height="1" fill="#000"/>
<rect x="550" y="500" width="1" height="1" fill="#000"/>
<rect x="618" y="500" width="1" height="1" fill="#000"/>
<rect x="212" y="502" width="269" height="16" fill="#FFC000"/>
<text x="346.50" y="514.80" text-anchor="middle" font-size="11.0" textLength="195.46" lengthAdjust="spacingAndGlyphs">Messwerte vom Leistungsmessgerät</text>
<rect x="209" y="291" width="3" height="230" fill="#FF0000"/>
<rect x="481" y="291" width="3" height="230" fill="#FF0000"/>
<rect x="209" y="291" width="275" height="3" fill="#FF0000"/>
<rect x="209" y="518" width="275" height="3" fill="#FF0000"/>
</svg>
</body></html>
